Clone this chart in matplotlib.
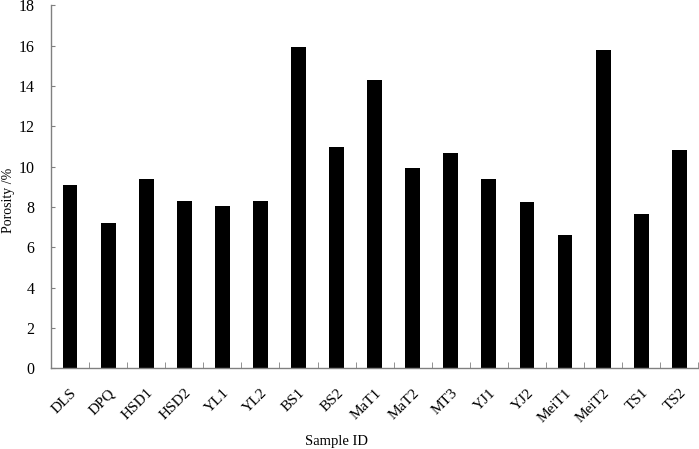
import numpy as np
import matplotlib.pyplot as plt
import matplotlib.transforms as mtransforms

plt.rcParams["font.family"] = ["Liberation Serif", "DejaVu Serif"]

samples = ["DLS", "DPQ", "HSD1", "HSD2", "YL1", "YL2", "BS1", "BS2", "MaT1",
           "MaT2", "MT3", "YJ1", "YJ2", "MeiT1", "MeiT2", "TS1", "TS2"]
porosity = [9.07, 7.2, 9.4, 8.3, 8.05, 8.27, 15.93, 10.99, 14.3,
            9.95, 10.69, 9.41, 8.23, 6.6, 15.8, 7.65, 10.81]

fig = plt.figure(figsize=(6.99, 4.49), dpi=100)
ax = fig.add_axes([0.073, 0.18, 0.926, 0.808])

x = np.arange(len(samples))
ax.bar(x, porosity, width=0.39, color="black")

ax.set_xlim(-0.5, len(samples) - 0.5)
ax.set_ylim(0, 18)
ax.set_yticks(range(0, 19, 2))
ax.set_yticklabels([str(v) for v in range(0, 19, 2)], fontsize=11.5)

# category labels at bar centres, boundary ticks between bars
ax.set_xticks(x)
ax.set_xticklabels(samples, rotation=45, ha="right", rotation_mode="anchor",
                   fontsize=11)
shift = mtransforms.ScaledTranslation(4 / 100, 0, fig.dpi_scale_trans)
for lab in ax.get_xticklabels():
    lab.set_transform(lab.get_transform() + shift)
ax.tick_params(axis="x", length=0, pad=13)
ax.set_xticks(np.arange(len(samples) + 1) - 0.5, minor=True)
ax.tick_params(axis="x", which="minor", direction="in", length=4,
               color="#808080")
ax.tick_params(axis="y", direction="in", length=3, color="#808080", pad=12)

for side in ["top", "right"]:
    ax.spines[side].set_visible(False)
for side in ["left", "bottom"]:
    ax.spines[side].set_color("#808080")
    ax.spines[side].set_linewidth(1.0)

ax.set_xlabel("Sample ID", fontsize=10.5)
ax.set_ylabel("Porosity /%", fontsize=10)
ax.xaxis.set_label_coords(0.441, -0.185)
ax.yaxis.set_label_coords(-0.056, 0.463)

fig.savefig("out.png", dpi=100)
